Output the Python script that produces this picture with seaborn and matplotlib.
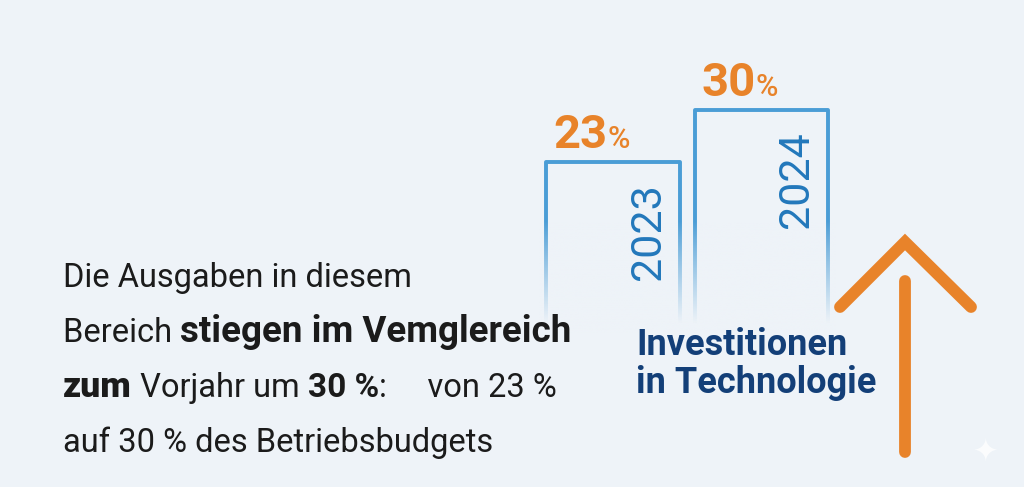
import numpy as np
import matplotlib
matplotlib.use("Agg")
import matplotlib.pyplot as plt
import matplotlib.colors as mcolors
import seaborn as sns

# Daten
jahre = ["2023", "2024"]
anteile = [23, 30]

# (Text, Schriftschnitt, Größe)
text_zeilen = [
    [("Die Ausgaben in diesem", "normal", 23.5)],
    [("Bereich ", "normal", 23.5), ("stiegen im Vemglereich", "bold", 26.5)],
    [("zum", "heavy", 25.5), (" Vorjahr um ", "normal", 23.5), ("30 %", "bold", 24),
     (":     von 23 %", "normal", 23.5)],
    [("auf 30 % des Betriebsbudgets", "normal", 23.5)],
]
titel_zeilen = ["Investitionen", "in Technologie"]

BG = "#eef3f8"
BLAU = "#4a9dd6"
BLAU_TEXT = "#2278bb"
ORANGE = "#e8832a"
NAVY = "#133f78"
SCHWARZ = "#1b1b1b"

sns.set_theme(style="white")
plt.rcParams["font.family"] = ["Roboto", "DejaVu Sans"]

W, H = 1024, 487
fig = plt.figure(figsize=(W / 100, H / 100), dpi=100)
fig.patch.set_facecolor(BG)
renderer = fig.canvas.get_renderer()


def breite(s, **kw):
    # Vorschub eines Textstücks in Pixel (inkl. Leerzeichen)
    t = fig.text(0, 0, s + "x", **kw)
    w1 = t.get_window_extent(renderer).width
    t.remove()
    t = fig.text(0, 0, "x", **kw)
    w2 = t.get_window_extent(renderer).width
    t.remove()
    return w1 - w2


def zeile(x, y, stuecke, **kw):
    # x, y in Pixel (y von oben), Grundlinie
    for s, gewicht, groesse, farbe in stuecke:
        opts = dict(fontsize=groesse, fontweight=gewicht, color=farbe, **kw)
        fig.text(x / W, 1 - y / H, s, va="baseline", ha="left", **opts)
        x += breite(s, **opts)


# Balken
ax = fig.add_axes([538.75 / W, 1 - 333 / H, 297 / W, 297.1 / H])
ax.set_facecolor("none")
sns.barplot(x=jahre, y=anteile, ax=ax, fill=False, width=0.9,
            color=BLAU, linewidth=2.8)
for p in ax.patches:
    p.set_edgecolor(BLAU)
    p.set_joinstyle("round")
    p.set_zorder(1)

# Ausblenden nach unten
rgb = mcolors.to_rgb(BG)
n = 200
grad = np.zeros((n, 1, 4))
grad[..., :3] = rgb
grad[:, 0, 3] = np.clip(np.linspace(0, 1.25, n), 0, 1) ** 0.9
ax.imshow(grad, extent=(-0.6, 1.6, -2, 15), aspect="auto", zorder=2,
          interpolation="bilinear")
ax.set_xlim(-0.5, 1.5)
ax.set_ylim(0, 40)
ax.axis("off")

for i, (jahr, wert) in enumerate(zip(jahre, anteile)):
    ax.text(i + 0.236, wert - 2.9, jahr, rotation=90, ha="center", va="top",
            fontsize=31, fontweight="normal", color=BLAU_TEXT, zorder=5)
    px, py = ax.transData.transform((i - 0.45, wert))
    zeile(px + 7, H - py - 14,
          [(str(wert), "bold", 34, ORANGE), ("%", "medium", 22, ORANGE)])

# Fließtext links
y0 = 287
for k, stuecke in enumerate(text_zeilen):
    zeile(63, y0 + k * 55, [(s, g, gr, SCHWARZ) for s, g, gr in stuecke])

# Titel
for k, z in enumerate(titel_zeilen):
    fig.text(636 / W, 1 - (355 + k * 38) / H, z, va="baseline", ha="left",
             fontsize=26, fontweight="bold", color=NAVY)

# Pfeil
ax2 = fig.add_axes([0, 0, 1, 1], zorder=3)
ax2.set_xlim(0, W)
ax2.set_ylim(H, 0)
ax2.axis("off")
ax2.plot([905, 905], [281, 452], color=ORANGE, lw=8.5, solid_capstyle="round")
ax2.plot([840, 905, 971], [307, 242, 307], color=ORANGE, lw=8.5,
         solid_capstyle="round", solid_joinstyle="miter")
ax2.text(985, 452, "\u2726", ha="center", va="center", fontsize=22,
         color="white", alpha=0.8, family="DejaVu Sans")

fig.savefig("out.png", dpi=100, facecolor=BG)
